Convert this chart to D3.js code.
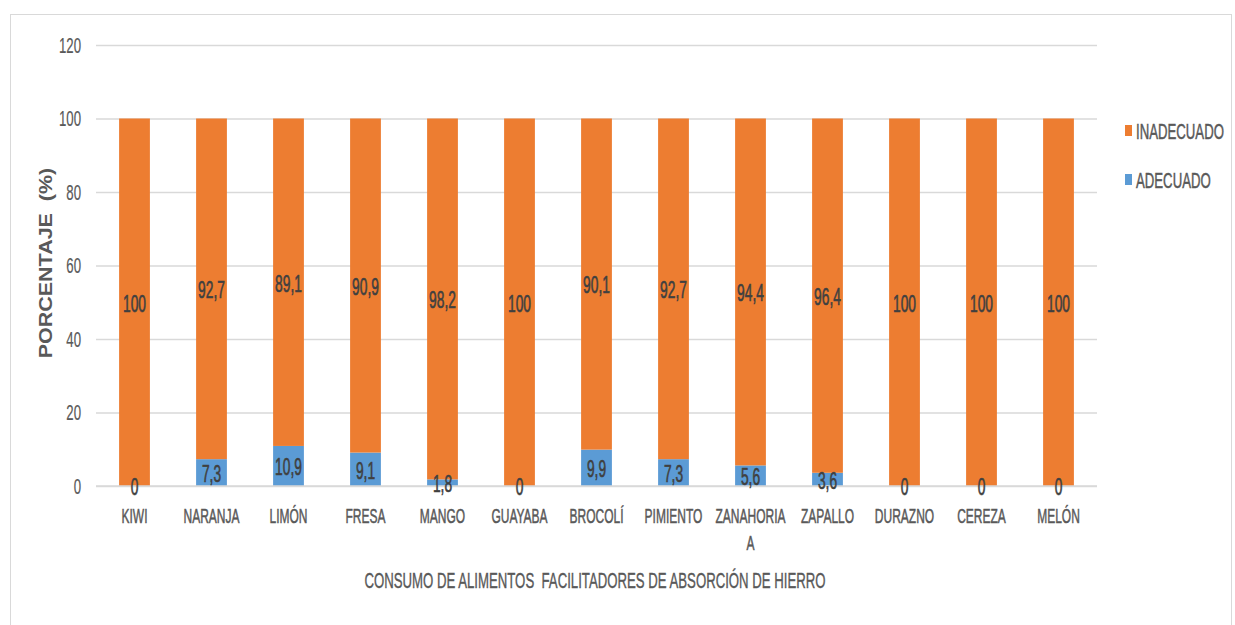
<!DOCTYPE html>
<html>
<head>
<meta charset="utf-8">
<script src="https://cdn.jsdelivr.net/npm/d3@7"></script>
<style>
  html, body { margin: 0; padding: 0; background: #fff; }
  svg { display: block; }
  text { font-family: "Liberation Sans", Arial, sans-serif; }
</style>
</head>
<body>
<svg id="chart" width="1235" height="625"></svg>
<script>
// Consumo de alimentos facilitadores de absorción de hierro (%)
const categories = ["KIWI", "NARANJA", "LIMÓN", "FRESA", "MANGO", "GUAYABA", "BROCOLÍ",
  "PIMIENTO", "ZANAHORIA\nA", "ZAPALLO", "DURAZNO", "CEREZA", "MELÓN"];
const adecuado   = [0, 7.3, 10.9, 9.1, 1.8, 0, 9.9, 7.3, 5.6, 3.6, 0, 0, 0];
const inadecuado = [100, 92.7, 89.1, 90.9, 98.2, 100, 90.1, 92.7, 94.4, 96.4, 100, 100, 100];
const yTicks = [0, 20, 40, 60, 80, 100, 120];
const seriesNames = ["ADECUADO", "INADECUADO"];
const legendOrder = ["INADECUADO", "ADECUADO"];
const colors = { ADECUADO: "#5B9BD5", INADECUADO: "#ED7D31" };

const svg = d3.select("#chart");
const SX = 0.6; // horizontal squeeze for the condensed lettering

// condensed text: a group positioned at (x, y) and squeezed horizontally
function narrowText(parent, x, y, str, opts = {}) {
  const fill = opts.fill || "#595959";
  const g = parent.append("g").attr("transform", `translate(${x},${y}) scale(${opts.sx || SX},1)`);
  const t = g.append("text")
    .attr("text-anchor", opts.anchor || "middle")
    .attr("dy", opts.dy || "0.36em")
    .attr("font-size", opts.size || 22)
    .attr("fill", fill)
    .attr("stroke", fill)
    .attr("stroke-width", opts.weight || 0.5)
    .attr("xml:space", "preserve")
    .text(str);
  return t;
}

// chart frame
svg.append("rect")
  .attr("x", 10.5).attr("y", 14.5)
  .attr("width", 1221).attr("height", 640)
  .attr("fill", "none").attr("stroke", "#D9D9D9").attr("stroke-width", 1);

const plot = { left: 96, right: 1097, top: 45, bottom: 486 };

const x = d3.scaleBand().domain(categories).range([plot.left, plot.right]).paddingInner(0.6).paddingOuter(0.3);
const y = d3.scaleLinear().domain([0, 120]).range([plot.bottom, plot.top]);

const fmt = v => String(v).replace(".", ",");

// gridlines
const yAxis = d3.axisLeft(y).tickValues(yTicks).tickSize(-(plot.right - plot.left)).tickFormat("");
const gy = svg.append("g").attr("transform", `translate(${plot.left},0)`).call(yAxis);
gy.select(".domain").remove();
gy.selectAll(".tick line").attr("stroke", "#D9D9D9").attr("stroke-width", 1.3);

// tick labels
const tickG = svg.append("g");
yTicks.forEach(v => narrowText(tickG, 81, y(v), String(v), { anchor: "end", size: 22, weight: 0.2 }));

// stacked data
const rows = categories.map((c, i) => ({ cat: c, ADECUADO: adecuado[i], INADECUADO: inadecuado[i] }));
const stack = d3.stack().keys(seriesNames)(rows);

const layers = svg.append("g").selectAll("g").data(stack).join("g")
  .attr("fill", d => colors[d.key]);
layers.selectAll("rect").data(d => d).join("rect")
  .attr("x", d => x(d.data.cat))
  .attr("width", x.bandwidth())
  .attr("y", d => y(d[1]))
  .attr("height", d => y(d[0]) - y(d[1]));

// x axis baseline
svg.append("line")
  .attr("x1", plot.left).attr("x2", plot.right)
  .attr("y1", y(0)).attr("y2", y(0))
  .attr("stroke", "#D9D9D9").attr("stroke-width", 1.5);

// value labels, centred on each segment
const labels = svg.append("g");
stack.forEach(layer => {
  layer.forEach(d => {
    narrowText(labels, x(d.data.cat) + x.bandwidth() / 2, y((d[0] + d[1]) / 2) + 1,
      fmt(d.data[layer.key]), { size: 23, fill: "#404040", weight: 0.6 });
  });
});

// category labels
const catG = svg.append("g");
categories.forEach(c => {
  c.split("\n").forEach((line, i) => {
    narrowText(catG, x(c) + x.bandwidth() / 2, 516 + i * 27, line, { size: 20 });
  });
});

// axis titles
narrowText(svg, 595, 580, "CONSUMO DE ALIMENTOS  FACILITADORES DE ABSORCIÓN DE HIERRO", { size: 22, weight: 0.4 });

const yTitle = svg.append("g").attr("transform", "translate(45,263) rotate(-90) scale(1.13,1)");
yTitle.append("text")
  .attr("text-anchor", "middle").attr("dy", "0.36em")
  .attr("fill", "#595959").attr("font-size", 19)
  .attr("font-weight", "bold")
  .attr("xml:space", "preserve")
  .text("PORCENTAJE  (%)");

// legend
const legend = svg.append("g");
legendOrder.forEach((k, i) => {
  const ly = 131 + i * 49;
  legend.append("rect").attr("x", 1125).attr("y", ly - 6).attr("width", 7).attr("height", 11).attr("fill", colors[k]);
  narrowText(legend, 1136, ly, k, { anchor: "start", size: 22, weight: 0.5 });
});
</script>
</body>
</html>
